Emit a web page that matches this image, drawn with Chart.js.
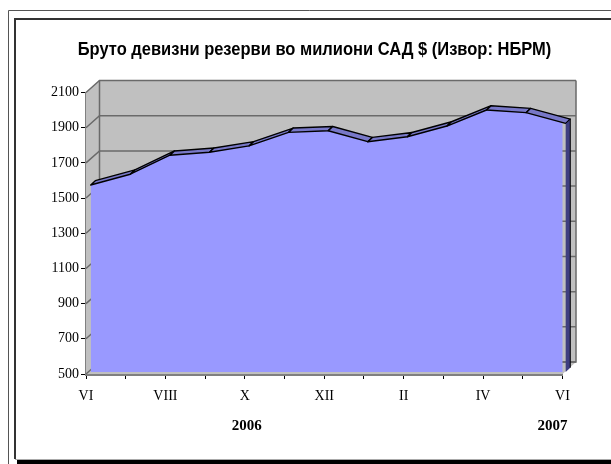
<!DOCTYPE html>
<html><head><meta charset="utf-8">
<script src="https://cdn.jsdelivr.net/npm/chart.js@4"></script>
<style>html,body{margin:0;padding:0;background:#fff}canvas{display:block}</style>
</head><body>
<canvas id="c" width="611" height="464"></canvas>
<script>
const chartTitle = 'Бруто девизни резерви во милиони САД $ (Извор: НБРМ)';
const monthLabels = ['VI','','VIII','','X','','XII','','II','','IV','','VI'];
const reserves = [1563,1624,1732,1749,1785,1862,1871,1809,1837,1898,1989,1974,1913];
const yearLabels = ['2006','2007'];
const yearPositions = [4.05,11.75];

const WALL_DX = 13.5, WALL_DY = -12;
const RIDGE_DX = 4.6, RIDGE_DY = -4.3;

const scene = {
  id:'scene',
  beforeDraw(chart){
    const c = chart.ctx;
    c.save();
    c.fillStyle='#fff'; c.fillRect(0,0,chart.width,chart.height);
    c.strokeStyle='#555'; c.lineWidth=1;
    c.beginPath(); c.moveTo(8.5,464); c.lineTo(8.5,10.5); c.lineTo(611,10.5); c.stroke();
    c.strokeStyle='#333'; c.lineWidth=2;
    c.beginPath(); c.moveTo(15,459); c.lineTo(15,19); c.lineTo(611,19); c.stroke();
    c.strokeStyle='#aaa'; c.lineWidth=1;
    c.beginPath(); c.moveTo(15,459.5); c.lineTo(611,459.5); c.stroke();
    c.fillStyle='#000'; c.fillRect(17,460,594,4);
    c.fillStyle='#000'; c.textAlign='center'; c.textBaseline='alphabetic';
    c.font='bold 18px "Liberation Sans"';
    c.translate(314.5,54.5); c.scale(0.916,1);
    c.fillText(chartTitle,0,0);
    c.restore();
  },
  beforeDatasetsDraw(chart){
    const c = chart.ctx, x = chart.scales.x, y = chart.scales.y;
    const L=x.getPixelForValue(0), R=x.getPixelForValue(12), T=y.getPixelForValue(2100), B=y.getPixelForValue(500);
    c.save();
    c.fillStyle='#c0c0c0';
    c.beginPath(); c.moveTo(L,B); c.lineTo(L,T); c.lineTo(L+WALL_DX,T+WALL_DY);
    c.lineTo(R+WALL_DX,T+WALL_DY); c.lineTo(R+WALL_DX,B+WALL_DY); c.lineTo(R,B); c.closePath(); c.fill();
    c.strokeStyle='#6a6a6a'; c.lineWidth=1.5;
    y.ticks.forEach(t=>{
      const p=y.getPixelForValue(t.value);
      c.beginPath(); c.moveTo(L,p); c.lineTo(L+WALL_DX,p+WALL_DY); c.lineTo(R+WALL_DX,p+WALL_DY); c.stroke();
    });
    c.beginPath(); c.moveTo(L+WALL_DX,T+WALL_DY); c.lineTo(L+WALL_DX,B+WALL_DY); c.lineTo(R+WALL_DX,B+WALL_DY); c.lineTo(R+WALL_DX,T+WALL_DY); c.stroke();
    c.restore();
  },
  afterDatasetsDraw(chart){
    const c = chart.ctx, pts = chart.getDatasetMeta(0).data, y2 = chart.scales.y2;
    const last = pts[pts.length-1], base = y2.getPixelForValue(500);
    c.save();
    c.strokeStyle='#000'; c.lineWidth=1.4; c.lineJoin='round';
    for(let i=0;i<pts.length-1;i++){
      const a=pts[i], b=pts[i+1];
      c.fillStyle='#7878c8';
      c.beginPath(); c.moveTo(a.x,a.y); c.lineTo(b.x,b.y); c.lineTo(b.x+RIDGE_DX,b.y+RIDGE_DY); c.lineTo(a.x+RIDGE_DX,a.y+RIDGE_DY); c.closePath(); c.fill(); c.stroke();
    }
    c.fillStyle='#3e3e80'; c.lineWidth=1;
    c.beginPath(); c.moveTo(last.x,last.y); c.lineTo(last.x+RIDGE_DX,last.y+RIDGE_DY);
    c.lineTo(last.x+RIDGE_DX,base+RIDGE_DY); c.lineTo(last.x,base); c.closePath(); c.fill();
    c.beginPath(); c.moveTo(last.x,last.y); c.lineTo(last.x+RIDGE_DX,last.y+RIDGE_DY); c.lineTo(last.x+RIDGE_DX,base+RIDGE_DY); c.stroke();
    c.restore();
  },
  afterDraw(chart){
    const c = chart.ctx, x = chart.scales.x;
    c.save();
    c.fillStyle='#000'; c.textAlign='center'; c.textBaseline='middle';
    c.font='bold 15px "Liberation Serif"';
    yearLabels.forEach((s,i)=>c.fillText(s,x.getPixelForValue(yearPositions[i]),426));
    c.restore();
  }
};

const tickFont = {family:'"Liberation Serif"',size:14};
new Chart(document.getElementById('c'),{
  type:'line',
  data:{
    datasets:[{
      data:reserves.map((v,i)=>({x:i,y:v})),
      xAxisID:'x2', yAxisID:'y2',
      backgroundColor:'#9999ff',
      borderWidth:0, pointRadius:0, tension:0,
      fill:{value:500}, clip:false
    }]
  },
  options:{
    responsive:false, animation:false,
    layout:{padding:{top:92.5,right:48.5,bottom:0,left:0}},
    plugins:{legend:{display:false},title:{display:false},tooltip:{enabled:false}},
    scales:{
      x:{type:'linear',min:0,max:12,z:1,
        afterFit(s){s.height=90},
        grid:{drawOnChartArea:false,tickLength:5,tickColor:'#000',tickWidth:1},
        border:{color:'#808080',width:3},
        ticks:{stepSize:1,autoSkip:false,maxRotation:0,padding:9,color:'#000',font:tickFont,
          callback:v=>monthLabels[v]}},
      y:{type:'linear',min:500,max:2100,z:1,
        afterFit(s){s.width=86},
        grid:{drawOnChartArea:false,tickLength:5,tickColor:'#000',tickWidth:1},
        border:{color:'#808080',width:1.5},
        ticks:{stepSize:200,autoSkip:false,padding:2,color:'#000',font:tickFont,
          callback:v=>String(v)}},
      x2:{type:'linear',display:false,min:-0.119,max:11.92},
      y2:{type:'linear',display:false,min:488.6,max:2088.6}
    }
  },
  plugins:[scene]
});
</script>
</body></html>
